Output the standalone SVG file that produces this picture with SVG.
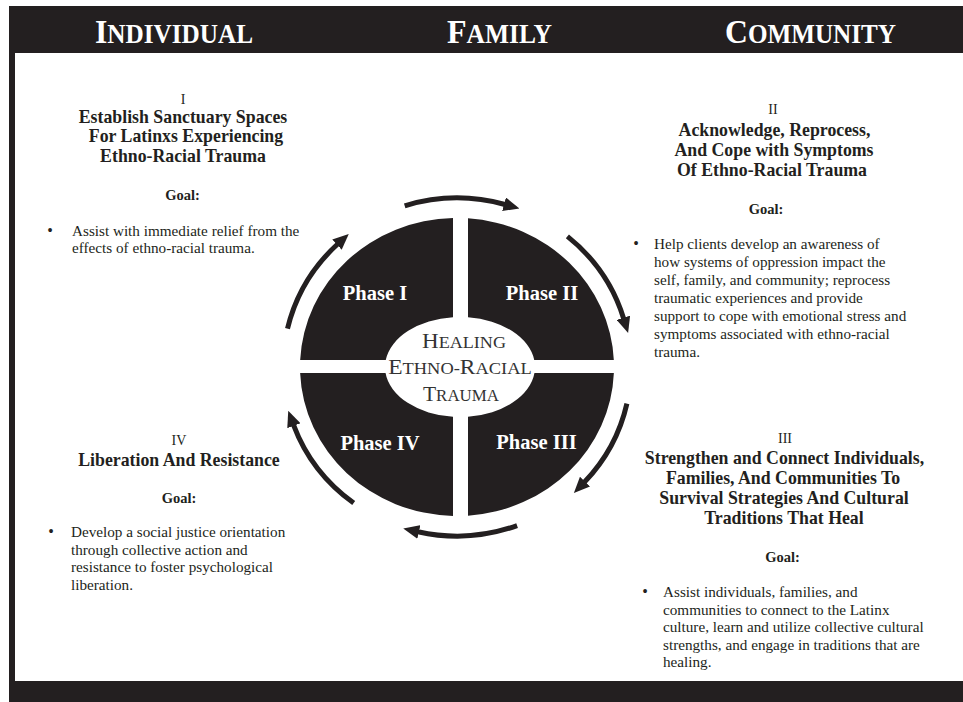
<svg xmlns="http://www.w3.org/2000/svg" width="963" height="702" viewBox="0 0 963 702">
<style>
text{font-family:"Liberation Serif","Times New Roman",serif;fill:#231f20}
.hd{font-weight:bold;fill:#fff;font-size:34px}
.sc{font-size:27px}
.ph{font-weight:bold;fill:#fff;font-size:20.5px;text-anchor:middle}
.num{font-size:14px;text-anchor:middle}
.ttl{font-weight:bold;font-size:17.8px;text-anchor:middle}
.goal{font-weight:bold;font-size:14.5px;text-anchor:middle}
.body{font-size:15.2px}
.bul{font-size:16px;text-anchor:middle}
.ctr{fill:#333;font-size:21px;text-anchor:middle}
.csc{font-size:16.5px}
.quad{fill:#231f20}
.arc{fill:none;stroke:#231f20;stroke-width:5;marker-end:url(#ah)}
</style>
<defs>
<marker id="ah" markerUnits="userSpaceOnUse" markerWidth="16" markerHeight="14" viewBox="0 0 16 14" refX="1" refY="7" orient="auto">
<path d="M0,0 L16,7 L0,14 Z" fill="#231f20"/>
</marker>
</defs>
<rect width="963" height="702" fill="#fff"/>
<g id="frame" fill="#231f20">
<rect x="9" y="6" width="954" height="47"/>
<rect x="9" y="6" width="6" height="696"/>
<rect x="9" y="681" width="954" height="21"/>
</g>
<g id="header">
<text class="hd" x="95" y="43" textLength="158" lengthAdjust="spacingAndGlyphs">I<tspan class="sc">NDIVIDUAL</tspan></text>
<text class="hd" x="447" y="43" textLength="105" lengthAdjust="spacingAndGlyphs">F<tspan class="sc">AMILY</tspan></text>
<text class="hd" x="725" y="43" textLength="171" lengthAdjust="spacingAndGlyphs">C<tspan class="sc">OMMUNITY</tspan></text>
</g>
<g id="phase1">
<path class="quad" d="M453,218.05 A157,149 0 0 0 300.17,360 L385.74,360 A75,50 0 0 1 453,317.2 Z"/>
<text class="ph" x="375" y="299.5">Phase I</text>
</g>
<g id="phase2">
<path class="quad" d="M468,218.37 A157,149 0 0 1 613.83,360 L534.26,360 A75,50 0 0 0 468,317.29 Z"/>
<text class="ph" x="542" y="299.5">Phase II</text>
</g>
<g id="phase3">
<path class="quad" d="M613.87,373 A157,149 0 0 1 468,515.63 L468,416.71 A75,50 0 0 0 534.46,373 Z"/>
<text class="ph" x="536.5" y="449">Phase III</text>
</g>
<g id="phase4">
<path class="quad" d="M453,515.95 A157,149 0 0 1 300.13,373 L385.54,373 A75,50 0 0 0 453,416.78 Z"/>
<text class="ph" x="380" y="449.5">Phase IV</text>
</g>
<g id="center">
<text class="ctr" x="464" y="348.3" textLength="84" lengthAdjust="spacingAndGlyphs">H<tspan class="csc">EALING</tspan></text>
<text class="ctr" x="460" y="373.5" textLength="143.5" lengthAdjust="spacingAndGlyphs">E<tspan class="csc">THNO-</tspan>R<tspan class="csc">ACIAL</tspan></text>
<text class="ctr" x="461" y="400.7" textLength="76" lengthAdjust="spacingAndGlyphs">T<tspan class="csc">RAUMA</tspan></text>
</g>
<g id="connectors">
<path class="arc" d="M404.7,205.8 A174,169 0 0 1 505,204.5"/>
<path class="arc" d="M567.4,236.4 A174,169 0 0 1 623.7,318.7"/>
<path class="arc" d="M626.9,403.6 A174,169 0 0 1 584.3,482.3"/>
<path class="arc" d="M517.1,525.6 A174,169 0 0 1 417.9,531.7"/>
<path class="arc" d="M353.7,503 A174,169 0 0 1 293.5,424.8"/>
<path class="arc" d="M287.5,328.7 A174,169 0 0 1 337.7,244"/>
</g>
<g id="block1">
<text class="num" x="183" y="103.5">I</text>
<text class="ttl" x="183" y="122.5">Establish Sanctuary Spaces</text>
<text class="ttl" x="186" y="142">For Latinxs Experiencing</text>
<text class="ttl" x="183" y="161.5">Ethno-Racial Trauma</text>
<text class="goal" x="182.5" y="200">Goal:</text>
<text class="bul" x="50" y="236">•</text>
<text class="body" x="72" y="236">Assist with immediate relief from the</text>
<text class="body" x="72" y="253">effects of ethno-racial trauma.</text>
</g>
<g id="block2">
<text class="num" x="773" y="114">II</text>
<text class="ttl" x="774.5" y="135.5">Acknowledge, Reprocess,</text>
<text class="ttl" x="774" y="155.5">And Cope with Symptoms</text>
<text class="ttl" x="772" y="175.5">Of Ethno-Racial Trauma</text>
<text class="goal" x="766" y="213.5">Goal:</text>
<text class="bul" x="636" y="249">•</text>
<text class="body" x="654"><tspan x="654" y="249">Help clients develop an awareness of</tspan><tspan x="654" y="267">how systems of oppression impact the</tspan><tspan x="654" y="285">self, family, and community; reprocess</tspan><tspan x="654" y="303">traumatic experiences and provide</tspan><tspan x="654" y="321">support to cope with emotional stress and</tspan><tspan x="654" y="339">symptoms associated with ethno-racial</tspan><tspan x="654" y="357">trauma.</tspan></text>
</g>
<g id="block3">
<text class="num" x="785" y="443">III</text>
<text class="ttl" x="784.5" y="463.5">Strengthen and Connect Individuals,</text>
<text class="ttl" x="783" y="484">Families, And Communities To</text>
<text class="ttl" x="784" y="504">Survival Strategies And Cultural</text>
<text class="ttl" x="784" y="524">Traditions That Heal</text>
<text class="goal" x="782.5" y="562">Goal:</text>
<text class="bul" x="645" y="597">•</text>
<text class="body"><tspan x="663" y="597">Assist individuals, families, and</tspan><tspan x="663" y="614.5">communities to connect to the Latinx</tspan><tspan x="663" y="632">culture, learn and utilize collective cultural</tspan><tspan x="663" y="649.5">strengths, and engage in traditions that are</tspan><tspan x="663" y="667">healing.</tspan></text>
</g>
<g id="block4">
<text class="num" x="179" y="445">IV</text>
<text class="ttl" x="179" y="465.5">Liberation And Resistance</text>
<text class="goal" x="179" y="502.5">Goal:</text>
<text class="bul" x="51" y="537">•</text>
<text class="body"><tspan x="71" y="537">Develop a social justice orientation</tspan><tspan x="71" y="554.5">through collective action and</tspan><tspan x="71" y="572">resistance to foster psychological</tspan><tspan x="71" y="589.5">liberation.</tspan></text>
</g>
</svg>
